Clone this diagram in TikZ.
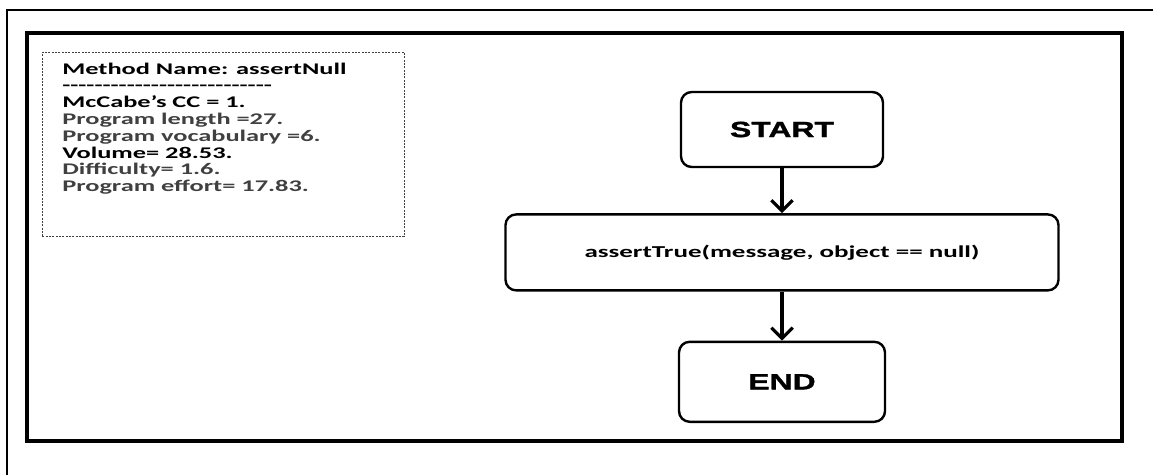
\documentclass[tikz,border=0pt]{standalone}
\usepackage{fontspec}
\usetikzlibrary{positioning,arrows.meta}
\newfontfamily\metricfont[FakeStretch=1.62]{Carlito}
\newfontfamily\flowfont[FakeStretch=1.45,BoldFont={Liberation Sans Bold},BoldFeatures={FakeBold=1.5}]{Liberation Sans}
\definecolor{metricgray}{RGB}{64,64,64}
\newcommand\dashrow{\foreach \k in {1,...,26}{-}}

\begin{document}
\begin{tikzpicture}
		[x=0.75pt,y=-0.75pt,
		stepbox/.style={draw,rounded corners=8pt,line width=1.8pt,inner sep=0pt},
		flowarrow/.style={line width=2.4pt,-{Straight Barb[length=8pt,width=16pt,line width=2.4pt]}},
		metric/.style={anchor=base west,inner sep=0pt,font=\metricfont\bfseries\fontsize{12.2}{14}\selectfont}]
		\useasboundingbox (0,0) rectangle (1153,475);
		% page edges
		\draw[line width=1.5pt] (7,475) -- (7,10) -- (1153,10);
		% frame
		\draw[line width=2.4pt] (27,33) rectangle (1122,441);
		% metrics panel
		\node[draw=black!75,dash pattern=on 1.5pt off 1pt,line width=0.7pt,minimum width=271.5pt,minimum height=138pt,inner sep=0pt,anchor=north west] (panel) at (42,52) {};
		\foreach \txt/\col [count=\i] in {Method Name: assertNull/black,\dashrow/black,McCabe’s CC = 1./black,Program length =27./metricgray,Program vocabulary =6./metricgray,Volume= 28.53./black,Difficulty= 1.6./metricgray,Program effort= 17.83./metricgray}
		{
			\node[metric,text=\col] (line\i) at (62,{74+16.8*(\i-1)}) {\txt};
		}
		% flow chart
		\node[stepbox,minimum width=151.5pt,minimum height=56.25pt,font=\flowfont\bfseries\fontsize{16.5}{18}\selectfont] (start) at (782,129.5) {START};
		\node[stepbox,below=33.75pt of start,minimum width=414.75pt,minimum height=57pt,font=\metricfont\bfseries\fontsize{12.5}{15}\selectfont] (check) {assertTrue(message, object == null)};
		\node[stepbox,below=36.75pt of check,minimum width=154.5pt,minimum height=60pt,font=\flowfont\bfseries\fontsize{16.5}{18}\selectfont] (finish) {END};
		\draw[flowarrow] (start) -- (check);
		\draw[flowarrow] (check) -- (finish);
	\end{tikzpicture}
\end{document}
